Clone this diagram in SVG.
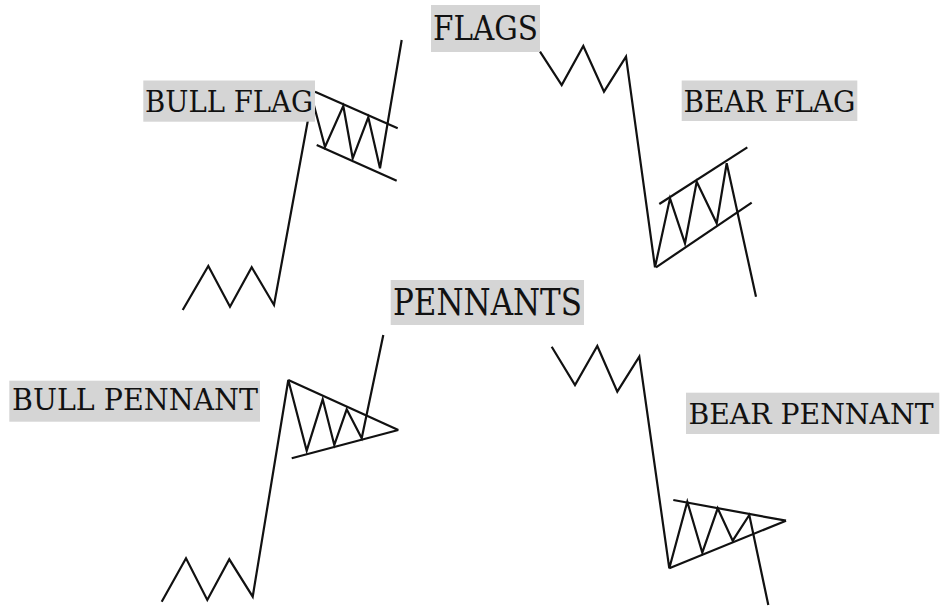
<svg xmlns="http://www.w3.org/2000/svg" width="943" height="607" viewBox="0 0 943 607">
<style>
.ln{fill:none;stroke:#111;stroke-width:2.2;stroke-linejoin:miter;stroke-linecap:butt}
.bx{fill:#d5d5d5}
.tx{font-family:"DejaVu Serif","Liberation Serif",serif;fill:#111}
</style>
<rect width="943" height="607" fill="#fff"/>
<g id="connectors">
<g id="bull-flag-lines">
<polyline class="ln" points="182.7,310 208.3,266 230,306.7 251.7,267.3 274,305 312,98 325,147 343.3,106 352.7,158.3 368.3,117.3 380,168.3 401.7,40"/>
<line class="ln" x1="315" y1="91.7" x2="397.7" y2="128.3"/>
<line class="ln" x1="316.7" y1="145" x2="396.7" y2="180.7"/>
</g>
<g id="bear-flag-lines">
<polyline class="ln" points="540,51.7 561.7,85 583.3,46 604,91.7 626,56.7 655,267.3 670,198.3 685,243.3 696.7,181.7 716.7,223.3 726.7,163.3 756,296.7"/>
<line class="ln" x1="659.3" y1="204" x2="747.3" y2="147.3"/>
<line class="ln" x1="656" y1="267.3" x2="751.7" y2="202.7"/>
</g>
<g id="bull-pennant-lines">
<polyline class="ln" points="161.7,601.7 186,558.3 207.3,600 229.3,559.3 252.7,596.7 288.3,380 306.7,450.7 322.7,399.3 334.3,445 346.7,409.3 361.7,438.3 383.3,335"/>
<line class="ln" x1="288.3" y1="380" x2="398.3" y2="430"/>
<line class="ln" x1="291.7" y1="458.3" x2="398.3" y2="430"/>
</g>
<g id="bear-pennant-lines">
<polyline class="ln" points="551.7,346.7 575,385 597.3,346 617.3,391.7 639.3,356.7 669.3,568.3 687.3,501.7 702.3,552.7 717.7,508.3 732.7,540.7 749.3,515 768.3,605"/>
<line class="ln" x1="673.3" y1="500" x2="786" y2="520.7"/>
<line class="ln" x1="669.3" y1="568.3" x2="786" y2="520.7"/>
</g>
</g>
<g id="flags-title">
<rect class="bx" x="431" y="5" width="109" height="47"/>
<text class="tx" x="433" y="39.5" font-size="33" textLength="105" lengthAdjust="spacingAndGlyphs">FLAGS</text>
</g>
<g id="bull-flag">
<rect class="bx" x="143.3" y="80.5" width="171.7" height="41.2"/>
<text class="tx" x="145" y="111.7" font-size="29" textLength="168" lengthAdjust="spacingAndGlyphs">BULL FLAG</text>
</g>
<g id="bear-flag">
<rect class="bx" x="681.7" y="80.5" width="175.6" height="40.5"/>
<text class="tx" x="683.5" y="111.7" font-size="29.5" textLength="172" lengthAdjust="spacingAndGlyphs">BEAR FLAG</text>
</g>
<g id="pennants-title">
<rect class="bx" x="390.7" y="280" width="193.3" height="45"/>
<text class="tx" x="393" y="315" font-size="36.5" textLength="189" lengthAdjust="spacingAndGlyphs">PENNANTS</text>
</g>
<g id="bull-pennant">
<rect class="bx" x="9.3" y="380.7" width="250.7" height="41"/>
<text class="tx" x="12" y="409.5" font-size="30" textLength="246" lengthAdjust="spacingAndGlyphs">BULL PENNANT</text>
</g>
<g id="bear-pennant">
<rect class="bx" x="686" y="392.7" width="253.3" height="41.3"/>
<text class="tx" x="688.5" y="423.5" font-size="28.5" textLength="245" lengthAdjust="spacingAndGlyphs">BEAR PENNANT</text>
</g>
</svg>
